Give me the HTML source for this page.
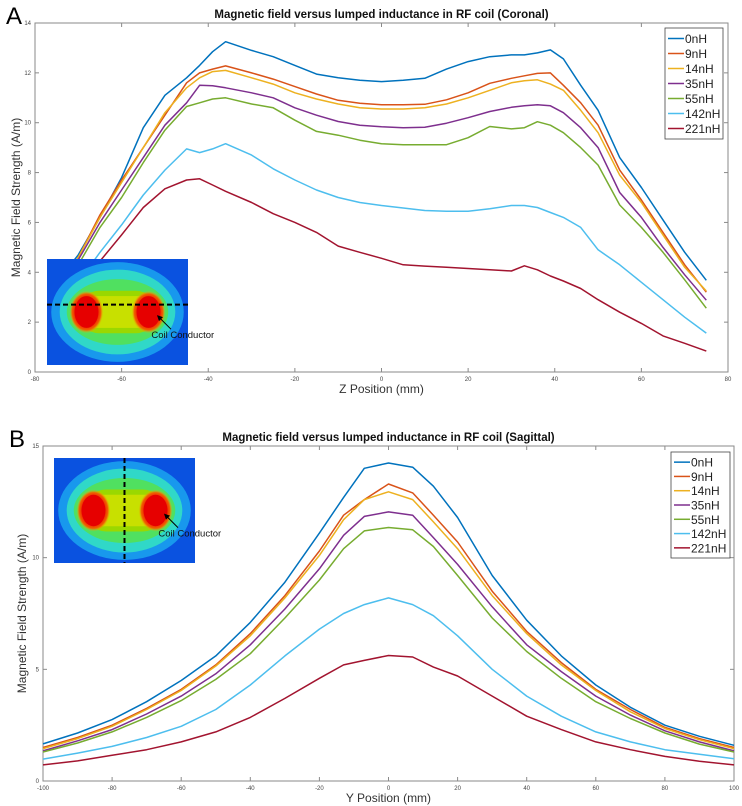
<!DOCTYPE html>
<html><head><meta charset="utf-8">
<style>
body{margin:0;background:#fff;width:742px;height:806px;overflow:hidden;font-family:"Liberation Sans",sans-serif}
svg{position:absolute;left:0;top:0}
</style></head>
<body>
<svg id="chart" width="742" height="806" viewBox="0 0 742 806" xmlns="http://www.w3.org/2000/svg">
<defs>
<radialGradient id="halo" cx="50%" cy="50%" r="50%">
<stop offset="0" stop-color="#b8e400"/><stop offset="0.55" stop-color="#7ed800"/><stop offset="0.75" stop-color="#20d8a0"/><stop offset="1" stop-color="#20a8e8" stop-opacity="0"/>
</radialGradient>
<radialGradient id="hot" cx="50%" cy="50%" r="50%">
<stop offset="0" stop-color="#e80000"/><stop offset="0.6" stop-color="#ee1000"/><stop offset="0.85" stop-color="#f06000"/><stop offset="1" stop-color="#e8c000" stop-opacity="0"/>
</radialGradient>
</defs>
</svg>
<script>
// ---- Data: panel A (coronal) ----
const zPos = [-75,-70,-65,-60,-55,-50,-45,-42,-39,-36,-30,-25,-20,-15,-10,-5,0,5,10,15,20,25,30,33,36,39,42,46,50,55,60,65,70,75];
const a0 = [3.6,4.7,6.2,7.8,9.8,11.1,11.8,12.3,12.85,13.25,12.9,12.65,12.3,11.95,11.8,11.7,11.65,11.7,11.78,12.15,12.45,12.65,12.72,12.72,12.8,12.92,12.56,11.5,10.5,8.6,7.4,6.1,4.8,3.68];
const a9 = [3.2,4.6,6.3,7.7,9.0,10.3,11.6,12.0,12.15,12.28,12.0,11.75,11.45,11.15,10.9,10.78,10.72,10.72,10.74,10.92,11.2,11.58,11.78,11.88,11.98,12.0,11.5,10.8,9.9,8.1,6.9,5.6,4.3,3.2];
const a14 = [3.2,4.6,6.2,7.6,9.0,10.4,11.4,11.8,12.05,12.1,11.8,11.55,11.2,10.95,10.75,10.6,10.55,10.55,10.6,10.75,11.0,11.3,11.6,11.68,11.72,11.55,11.3,10.5,9.6,7.9,6.8,5.5,4.2,3.25];
const a35 = [3.0,4.5,6.0,7.3,8.6,9.9,10.8,11.5,11.48,11.4,11.2,11.0,10.6,10.3,10.05,9.9,9.84,9.8,9.82,9.98,10.2,10.45,10.62,10.68,10.72,10.68,10.4,9.8,9.0,7.2,6.2,5.0,3.9,2.88];
const a55 = [2.8,4.3,5.8,7.0,8.4,9.7,10.65,10.8,10.95,11.0,10.75,10.6,10.1,9.65,9.5,9.3,9.16,9.12,9.12,9.12,9.4,9.85,9.75,9.8,10.04,9.9,9.6,9.0,8.3,6.7,5.8,4.8,3.7,2.56];
const a142 = [2.6,3.6,4.8,5.9,7.1,8.1,8.95,8.8,8.95,9.16,8.7,8.15,7.7,7.3,7.0,6.8,6.68,6.58,6.48,6.45,6.45,6.55,6.68,6.68,6.6,6.4,6.2,5.8,4.9,4.3,3.6,2.9,2.2,1.56];
const a221 = [2.3,3.4,4.45,5.5,6.6,7.35,7.7,7.75,7.5,7.25,6.8,6.35,6.0,5.6,5.05,4.8,4.56,4.3,4.25,4.2,4.15,4.1,4.05,4.26,4.1,3.85,3.65,3.35,2.9,2.4,1.95,1.45,1.15,0.84];
const aXTicks = [-80,-60,-40,-20,0,20,40,60,80];
const aYTicks = [0,2,4,6,8,10,12,14];
// ---- Data: panel B (sagittal) ----
const yPos = [-100,-90,-80,-70,-60,-50,-40,-30,-20,-13,-7,0,7,13,20,30,40,50,60,70,80,90,100];
const b0 = [1.66,2.15,2.75,3.55,4.5,5.6,7.1,8.9,11.1,12.7,14.0,14.24,14.05,13.2,11.8,9.2,7.2,5.6,4.3,3.3,2.5,2.0,1.6];
const b9 = [1.5,1.95,2.5,3.25,4.1,5.2,6.6,8.3,10.3,11.9,12.6,13.3,12.9,11.9,10.7,8.5,6.7,5.3,4.1,3.2,2.4,1.9,1.5];
const b14 = [1.45,1.9,2.45,3.2,4.05,5.15,6.5,8.2,10.1,11.7,12.6,12.95,12.6,11.6,10.4,8.3,6.6,5.2,4.05,3.1,2.35,1.85,1.45];
const b35 = [1.35,1.8,2.3,3.0,3.8,4.8,6.1,7.7,9.5,11.0,11.85,12.05,11.9,10.9,9.7,7.8,6.1,4.9,3.8,2.95,2.25,1.75,1.35];
const b55 = [1.3,1.7,2.2,2.85,3.6,4.55,5.7,7.3,9.0,10.4,11.2,11.35,11.25,10.5,9.2,7.3,5.8,4.6,3.55,2.8,2.15,1.65,1.3];
const b142 = [0.98,1.25,1.55,1.95,2.45,3.2,4.3,5.6,6.8,7.5,7.9,8.2,7.9,7.4,6.5,5.0,3.8,2.9,2.2,1.75,1.4,1.2,1.0];
const b221 = [0.72,0.9,1.15,1.4,1.75,2.2,2.85,3.7,4.6,5.2,5.4,5.62,5.55,5.1,4.7,3.8,2.9,2.3,1.75,1.4,1.1,0.88,0.72];
const bXTicks = [-100,-80,-60,-40,-20,0,20,40,60,80,100];
const bYTicks = [0,5,10,15];
const seriesNames = ["0nH","9nH","14nH","35nH","55nH","142nH","221nH"];
const colors = ["#0072BD","#D95319","#EDB120","#7E2F8E","#77AC30","#4DBEEE","#A2142F"];

const svg = document.getElementById('chart');
const NS = 'http://www.w3.org/2000/svg';
function mk(tag, attrs, parent){const e=document.createElementNS(NS,tag);for(const k in attrs)e.setAttribute(k,attrs[k]);(parent||svg).appendChild(e);return e;}

function panel(cfg){
  const g = mk('g',{});
  
  
  const {L,R,T,B,xmin,xmax,ymin,ymax} = cfg;
  const sx = v => L + (v - xmin) / (xmax - xmin) * (R - L);
  const sy = v => B - (v - ymin) / (ymax - ymin) * (B - T);
  const box = mk('rect',{x:L,y:T,width:R-L,height:B-T,fill:'#fff',stroke:'#8a8a8a','stroke-width':1},g);
  
  
  cfg.xTicks.forEach(t=>{
    const x=sx(t);
    mk('line',{x1:x,y1:B,x2:x,y2:B-4,stroke:'#8a8a8a'},g);
    mk('line',{x1:x,y1:T,x2:x,y2:T+4,stroke:'#8a8a8a'},g);
    const tl=mk('text',{x:x,y:B+9,'font-size':6,'text-anchor':'middle',fill:'#444'},g);
    tl.textContent=t;
    
    
  });
  cfg.yTicks.forEach(t=>{
    const y=sy(t);
    mk('line',{x1:L,y1:y,x2:L+4,y2:y,stroke:'#8a8a8a'},g);
    mk('line',{x1:R,y1:y,x2:R-4,y2:y,stroke:'#8a8a8a'},g);
    const tl=mk('text',{x:L-4,y:y+2,'font-size':6,'text-anchor':'end',fill:'#444'},g);
    tl.textContent=t;
    
    
  });
  cfg.series.forEach((s,i)=>{
    const pts = cfg.xs.map((x,j)=>sx(x).toFixed(1)+','+sy(s[j]).toFixed(1)).join(' ');
    const pl = mk('polyline',{points:pts,fill:'none',stroke:colors[i],'stroke-width':1.5,'stroke-linejoin':'round'},g);
    
    
  });
  // legend
  const lg = mk('g',{},g);
  
  
  const [lx,ly,lw,lh]=cfg.legend;
  mk('rect',{x:lx,y:ly,width:lw,height:lh,fill:'#fff',stroke:'#444','stroke-width':0.8},lg);
  const step = (lh-6)/7;
  seriesNames.forEach((n,i)=>{
    const yy = ly+3+step*(i+0.5);
    mk('line',{x1:lx+3,y1:yy,x2:lx+19,y2:yy,stroke:colors[i],'stroke-width':1.5},lg);
    const t=mk('text',{x:lx+20,y:yy+4.5,'font-size':12,fill:'#222'},lg);
    t.textContent=n;
    
    
  });
  // title and axis labels
  const tt=mk('text',{x:(L+R)/2,y:T-5,'font-size':11.5,'font-weight':'bold','text-anchor':'middle',fill:'#111'},g);
  tt.textContent=cfg.title;
  
  
  const xl=mk('text',{x:(L+R)/2,y:B+21,'font-size':12,'text-anchor':'middle',fill:'#333'},g);
  xl.textContent=cfg.xlabel;
  
  
  const yc=(T+B)/2;
  const yl=mk('text',{x:cfg.ylx,y:yc,'font-size':12,'text-anchor':'middle',fill:'#333',transform:`rotate(-90 ${cfg.ylx} ${yc})`},g);
  yl.textContent='Magnetic Field Strength (A/m)';
  
  
  const pl=mk('text',{x:cfg.letter[0],y:cfg.letter[1],'font-size':24,fill:'#000'},g);
  pl.textContent=cfg.letterText;
  
  
}

function inset(x,y,w,h,vertical){
  const g=mk('g',{});
  
  
  mk('rect',{x:x,y:y,width:w,height:h,fill:'#0a52e0'},g);
  mk('ellipse',{cx:x+w*0.5,cy:y+h*0.5,rx:w*0.47,ry:h*0.47,fill:'#1aa0ee',opacity:0.9},g);
  mk('ellipse',{cx:x+w*0.5,cy:y+h*0.5,rx:w*0.41,ry:h*0.4,fill:'#30d8c8'},g);
  mk('ellipse',{cx:x+w*0.5,cy:y+h*0.5,rx:w*0.36,ry:h*0.31,fill:'#50e060'},g);
  mk('rect',{x:x+w*0.22,y:y+h*0.3,width:w*0.56,height:h*0.4,rx:h*0.2,fill:'#9ad800'},g);
  mk('rect',{x:x+w*0.32,y:y+h*0.35,width:w*0.36,height:h*0.3,fill:'#c8e000'},g);
  mk('ellipse',{cx:x+w*0.28,cy:y+h*0.5,rx:w*0.12,ry:h*0.2,fill:'url(#hot)'},g);
  mk('ellipse',{cx:x+w*0.72,cy:y+h*0.5,rx:w*0.12,ry:h*0.2,fill:'url(#hot)'},g);
  mk('ellipse',{cx:x+w*0.28,cy:y+h*0.5,rx:w*0.085,ry:h*0.15,fill:'#e60000'},g);
  mk('ellipse',{cx:x+w*0.72,cy:y+h*0.5,rx:w*0.085,ry:h*0.15,fill:'#e60000'},g);
  if(vertical){
    mk('line',{x1:x+w*0.5,y1:y,x2:x+w*0.5,y2:y+h,stroke:'#000','stroke-width':2,'stroke-dasharray':'5,3'},g);
  } else {
    mk('line',{x1:x,y1:y+h*0.43,x2:x+w,y2:y+h*0.43,stroke:'#000','stroke-width':2,'stroke-dasharray':'5,3'},g);
  }
  const ax=x+w*0.78, ay=y+h*0.53;
  mk('line',{x1:ax+14,y1:ay+14,x2:ax+2,y2:ay+2,stroke:'#000','stroke-width':1},g);
  mk('polygon',{points:`${ax},${ay} ${ax+6},${ay+2} ${ax+2},${ay+6}`,fill:'#000'},g);
  const t=mk('text',{x:x+w*0.74,y:ay+23,'font-size':9.5,fill:'#111'},g);
  t.textContent='Coil Conductor';
  
  
}

panel({name:'coronal-chart',L:35,R:728,T:23,B:372,xmin:-80,xmax:80,ymin:0,ymax:14,
  xTicks:aXTicks,yTicks:aYTicks,xs:zPos,series:[a0,a9,a14,a35,a55,a142,a221],
  legend:[665,28,58,111],title:'Magnetic field versus lumped inductance in RF coil (Coronal)',
  xlabel:'Z Position (mm)',ylx:20,letter:[6,24],letterText:'A'});
inset(47,259,141,106,false);

panel({name:'sagittal-chart',L:43,R:734,T:446,B:781,xmin:-100,xmax:100,ymin:0,ymax:15,
  xTicks:bXTicks,yTicks:bYTicks,xs:yPos,series:[b0,b9,b14,b35,b55,b142,b221],
  legend:[671,452,59,106],title:'Magnetic field versus lumped inductance in RF coil (Sagittal)',
  xlabel:'Y Position (mm)',ylx:26,letter:[9,447],letterText:'B'});
inset(54,458,141,105,true);
</script>
</body></html>
